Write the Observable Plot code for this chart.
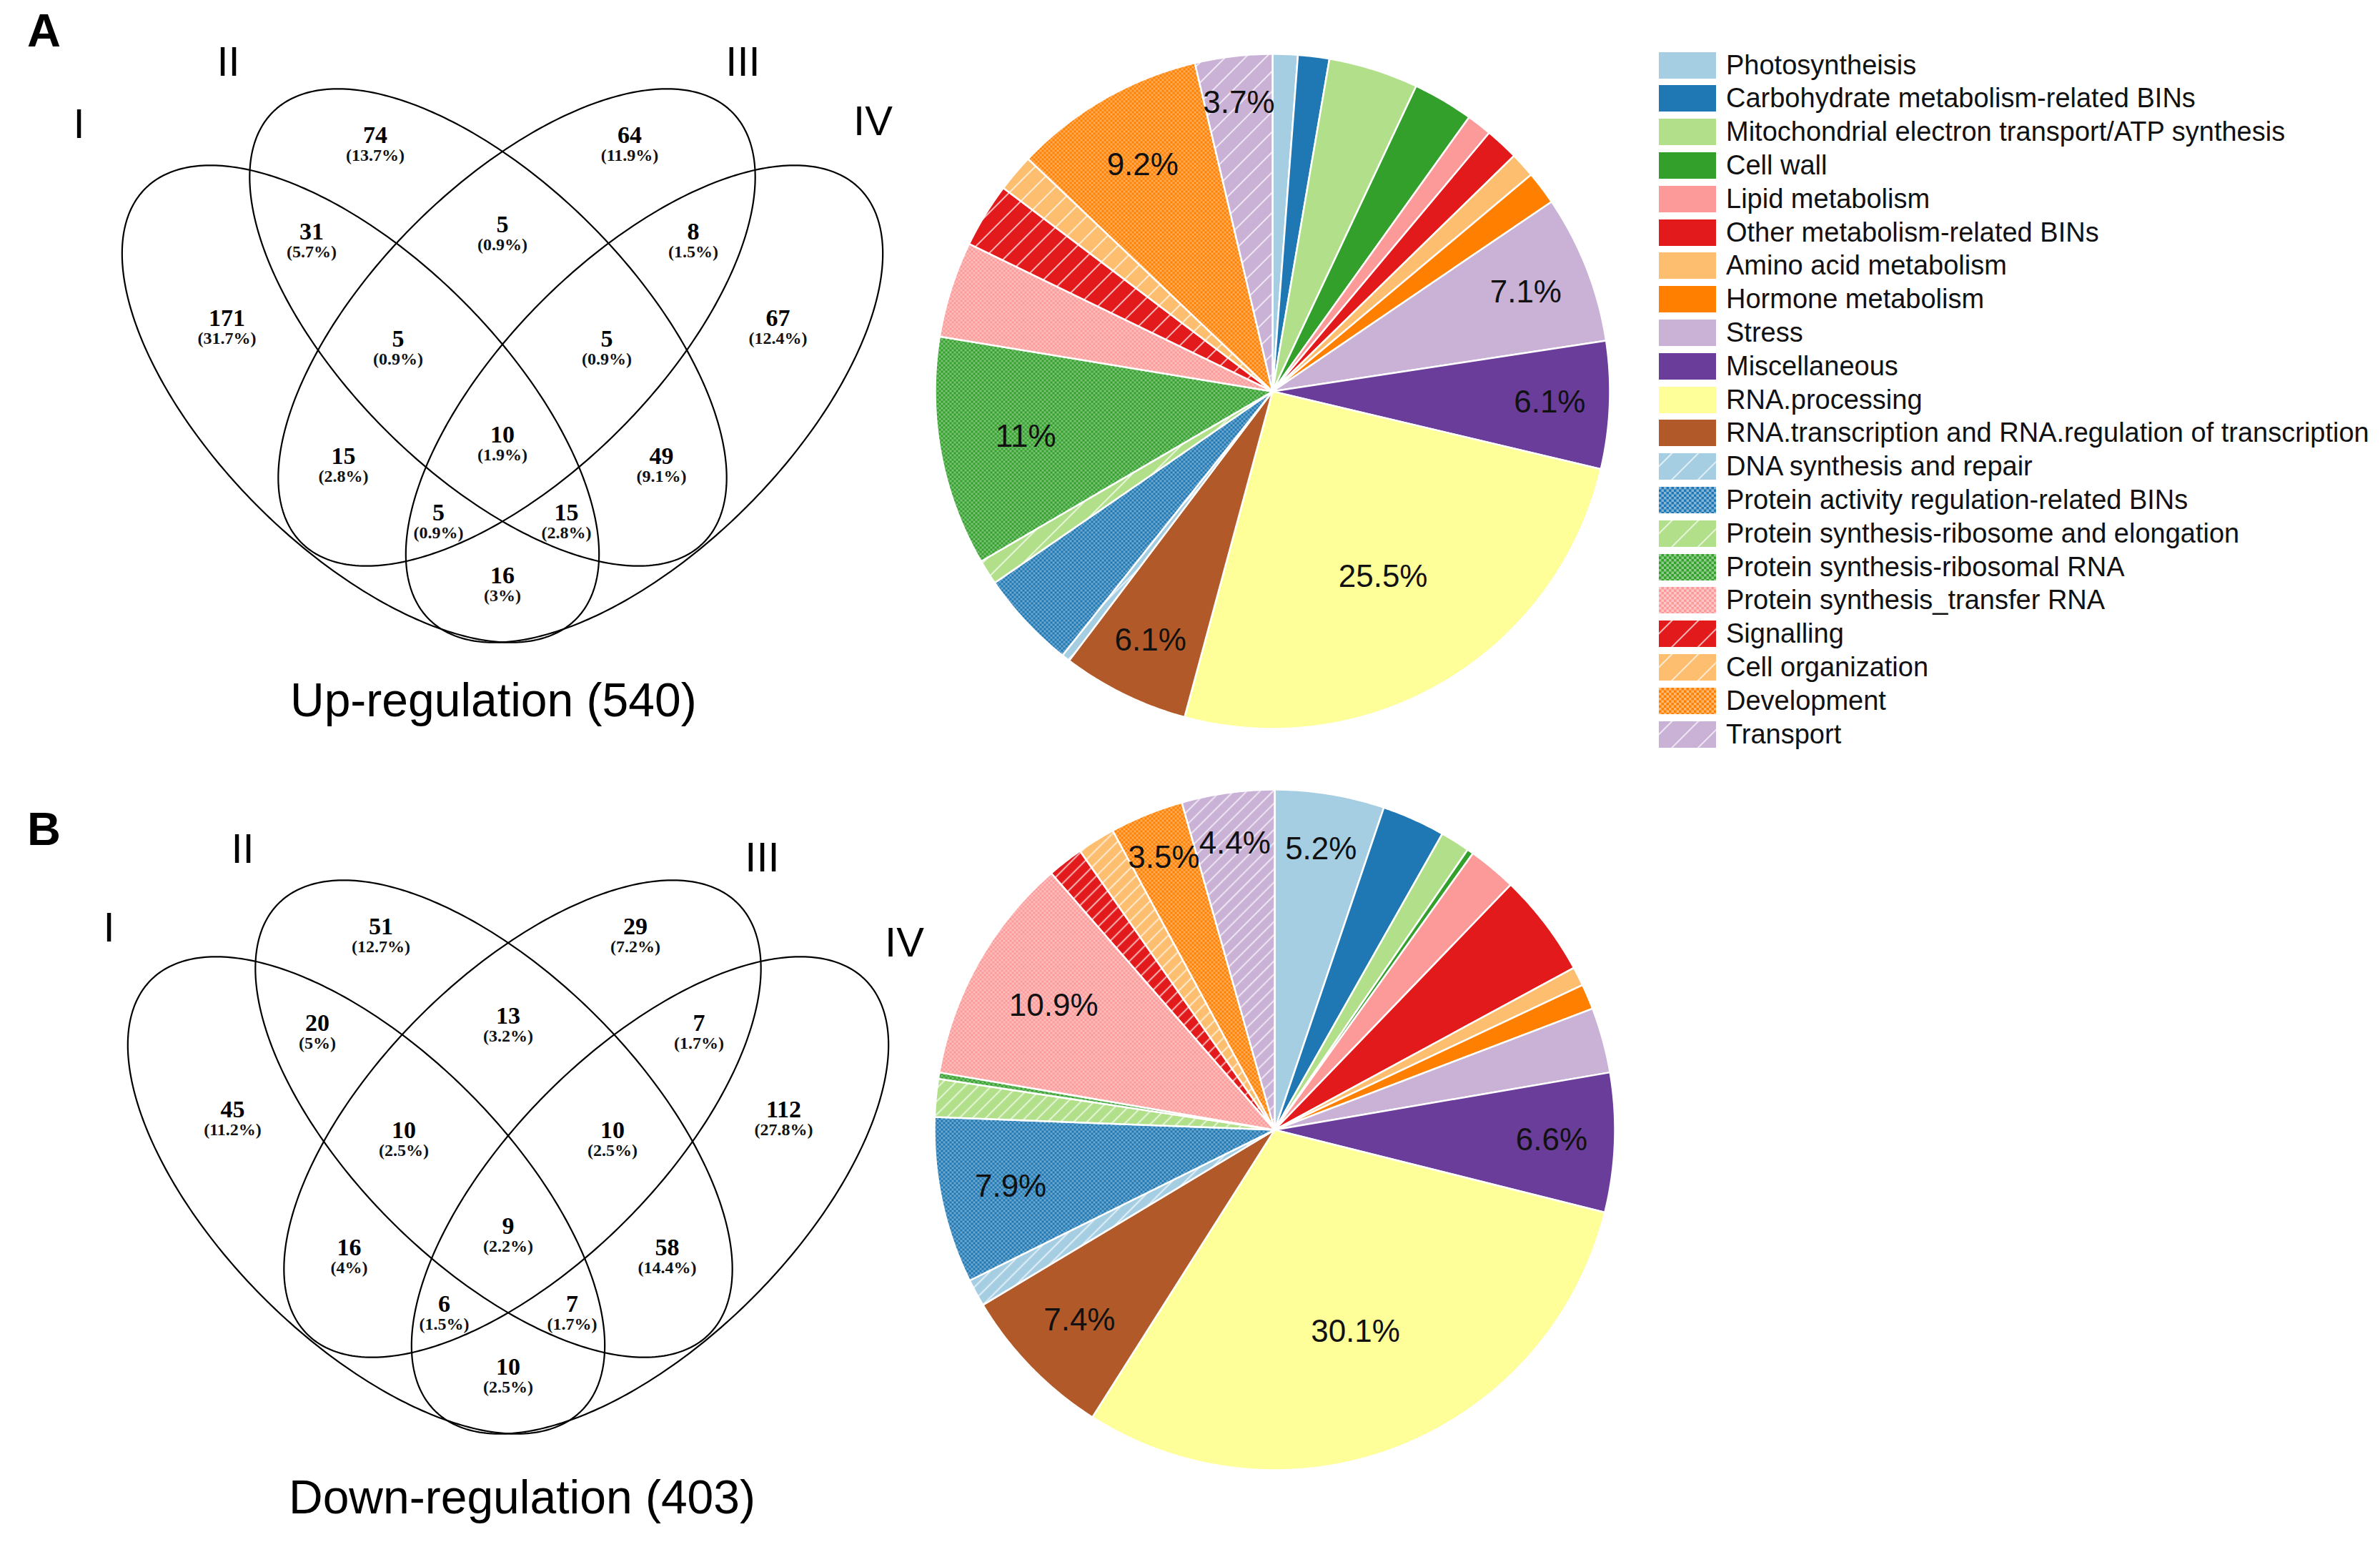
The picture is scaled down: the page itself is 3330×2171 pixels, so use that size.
<!DOCTYPE html>
<html><head><meta charset="utf-8">
<script src="https://cdn.jsdelivr.net/npm/d3@7"></script>
<script src="https://cdn.jsdelivr.net/npm/@observablehq/plot@0.6"></script>
<style>
html,body{margin:0;padding:0;background:#fff}
body{width:3330px;height:2171px;position:relative;overflow:hidden;font-family:"Liberation Sans",Arial,sans-serif;color:#000}
.abs{position:absolute}
.title{font-size:66px;line-height:1;white-space:nowrap}
.panel{font-size:65px;font-weight:bold;line-height:1}
.leg{position:absolute;display:flex;align-items:center;font-size:38px;white-space:nowrap;color:#111}
.leg svg{margin-right:14px;flex:none}
</style></head><body>
<svg width="0" height="0" style="position:absolute" id="defs"><defs id="defsInner"></defs></svg>
<div id="vennA" class="abs" style="left:0;top:0;width:1290px;height:1040px"></div>
<div id="vennB" class="abs" style="left:8px;top:1107px;width:1290px;height:1040px"></div>
<div id="pieA" class="abs" style="left:1280px;top:47px;width:1000px;height:1000px"></div>
<div id="pieB" class="abs" style="left:1283px;top:1080px;width:1000px;height:1000px"></div>
<div class="abs panel" style="left:38px;top:10px">A</div>
<div class="abs panel" style="left:38px;top:1127px">B</div>
<div class="abs title" style="left:406px;top:946px">Up-regulation (540)</div>
<div class="abs title" style="left:404px;top:2061px">Down-regulation (403)</div>
<div id="legend"></div>
<script>
// ---------------- DATA ----------------
const categories = [
  "Photosyntheisis",
  "Carbohydrate metabolism-related BINs",
  "Mitochondrial electron transport/ATP synthesis",
  "Cell wall",
  "Lipid metabolism",
  "Other metabolism-related BINs",
  "Amino acid metabolism",
  "Hormone metabolism",
  "Stress",
  "Miscellaneous",
  "RNA.processing",
  "RNA.transcription and RNA.regulation of transcription",
  "DNA synthesis and repair",
  "Protein activity regulation-related BINs",
  "Protein synthesis-ribosome and elongation",
  "Protein synthesis-ribosomal RNA",
  "Protein synthesis_transfer RNA",
  "Signalling",
  "Cell organization",
  "Development",
  "Transport"
];
// share of genes (%) per category
const upShare   = [1.2, 1.5, 4.3, 2.9, 1.2, 1.6, 1.2, 1.6, 7.1, 6.1, 25.5, 6.1, 0.4, 4.7, 1.2, 11.0, 4.6, 3.1, 1.8, 9.2, 3.7];
const downShare = [5.2, 3.0, 1.4, 0.3, 2.3, 4.9, 0.9, 1.2, 3.1, 6.6, 30.1, 7.4, 1.3, 7.9, 1.8, 0.3, 10.9, 1.7, 1.8, 3.5, 4.4];
const upLabels   = ["","","","","","","","","7.1%","6.1%","25.5%","6.1%","","","","11%","","","","9.2%","3.7%"];
const downLabels = ["5.2%","","","","","","","","","6.6%","30.1%","7.4%","","7.9%","","","10.9%","","","3.5%","4.4%"];

// Venn regions
const vennRegions = ["II","III","I∩II","II∩III","III∩IV","I","IV","I∩II∩III","II∩III∩IV","I∩II∩III∩IV","I∩III","II∩IV","I∩III∩IV","I∩II∩IV","I∩IV"];
const upCounts   = [74, 64, 31, 5, 8, 171, 67, 5, 5, 10, 15, 49, 5, 15, 16];
const upPercents = ["13.7%","11.9%","5.7%","0.9%","1.5%","31.7%","12.4%","0.9%","0.9%","1.9%","2.8%","9.1%","0.9%","2.8%","3%"];
const downCounts   = [51, 29, 20, 13, 7, 45, 112, 10, 10, 9, 16, 58, 6, 7, 10];
const downPercents = ["12.7%","7.2%","5%","3.2%","1.7%","11.2%","27.8%","2.5%","2.5%","2.2%","4%","14.4%","1.5%","1.7%","2.5%"];
const setNames = ["I","II","III","IV"];

// ---------------- STYLE / LAYOUT ----------------
const palette = ["#a6cee3","#1f78b4","#b2df8a","#33a02c","#fb9a99","#e31a1c","#fdbf6f","#ff7f00","#cab2d6","#6a3d9a","#ffff99","#b15928"];
const catColor = categories.map((c,i) => palette[i < 12 ? i : i - 12]);
const dotted = new Set([13, 15, 16, 19]);
const catPattern = categories.map((c,i) => i < 12 ? null : (dotted.has(i) ? "dots" : "stripe"));

function patternDefs(prefix, gap, cell, op){
  return categories.map((c,i) => {
    const col = catColor[i], kind = catPattern[i];
    if (!kind) return "";
    if (kind === "stripe") {
      return `<pattern id="${prefix}${i}" patternUnits="userSpaceOnUse" width="${gap}" height="${gap}" patternTransform="rotate(45)">
        <rect width="${gap}" height="${gap}" fill="${col}"/>
        <line x1="${gap/2}" y1="0" x2="${gap/2}" y2="${gap}" stroke="#fff" stroke-width="1.7" stroke-opacity="0.8"/></pattern>`;
    }
    const h = cell/2;
    return `<pattern id="${prefix}${i}" patternUnits="userSpaceOnUse" width="${cell}" height="${cell}">
      <rect width="${cell}" height="${cell}" fill="${col}"/>
      <rect x="0" y="0" width="${h}" height="${h}" fill="#fff" fill-opacity="${op}"/>
      <rect x="${h}" y="${h}" width="${h}" height="${h}" fill="#fff" fill-opacity="${op}"/></pattern>`;
  }).join("");
}
document.getElementById("defsInner").innerHTML =
  patternDefs("pa", 20, 6, 0.35) + patternDefs("pb", 13, 6, 0.35) + patternDefs("pl", 26, 7, 0.45);
const fillFor = (i, prefix) => catPattern[i] ? `url(#${prefix}${i})` : catColor[i];

// ---------------- PIES ----------------
function pieChart(shares, labels, R, prefix){
  const total = d3.sum(shares);
  let acc = 0;
  const pts = [], lab = [];
  shares.forEach((v,i) => {
    const a0 = acc/total*2*Math.PI, a1 = (acc+v)/total*2*Math.PI; acc += v;
    const fill = fillFor(i, prefix);
    const n = Math.max(2, Math.ceil((a1-a0)/(Math.PI/360)));
    pts.push({k:i, x:0, y:0, fill});
    for (let j=0;j<=n;j++){ const t = a0+(a1-a0)*j/n; pts.push({k:i, x:Math.sin(t), y:Math.cos(t), fill}); }
    pts.push({k:i, x:0, y:0, fill});
    if (labels[i]) {
      const m = (a0+a1)/2, rr = Math.max(0.64, 0.92 - 0.016*v);
      lab.push({x: rr*Math.sin(m), y: rr*Math.cos(m), text: labels[i]});
    }
  });
  return Plot.plot({
    width:1000, height:1000, margin:0,
    style:{background:"transparent", overflow:"visible"},
    x:{domain:[-R,R], axis:null}, y:{domain:[-R,R], axis:null},
    color:{type:"identity"},
    marks:[
      Plot.line(pts, {x:"x", y:"y", z:"k", fill:"fill", stroke:"#fff", strokeWidth:2.5, strokeLinejoin:"round", curve:"linear"}),
      Plot.text(lab, {x:"x", y:"y", text:"text", fontSize:44, fill:"#111", fontFamily:"Liberation Sans, Arial, sans-serif"})
    ]
  });
}
document.getElementById("pieA").append(pieChart(upShare, upLabels, 500/472, "pa"));
document.getElementById("pieB").append(pieChart(downShare, downLabels, 500/476, "pb"));

// ---------------- VENNS ----------------
// geometry of the four ellipses in the Venn frame (pixel units, y downward)
const ellipseGeom = [
  {set:"I",  cx:504.0, cy:564.5, rot:45},
  {set:"II", cx:682.5, cy:457.5, rot:45},
  {set:"III",cx:722.5, cy:457.5, rot:-45},
  {set:"IV", cx:901.0, cy:564.5, rot:-45}
];
const semiA = 426, semiB = 203;
const regionPos = [
  [524.5,203],[880.5,203],[435.5,338],[702.5,328],[969.5,338],
  [317,459],[1088,459],[556.5,488],[848.5,488],[702.5,622],
  [480,652],[925,652],[613,731],[792,731],[702.5,819]
];
function venn(counts, pcts, numeralPos){
  const ell = ellipseGeom.flatMap(e => d3.range(0, 361).map(d => {
    const t = d*Math.PI/180, p = e.rot*Math.PI/180;
    return {set:e.set,
      x: e.cx + semiA*Math.cos(t)*Math.cos(p) - semiB*Math.sin(t)*Math.sin(p),
      y: e.cy + semiA*Math.cos(t)*Math.sin(p) + semiB*Math.sin(t)*Math.cos(p)};
  }));
  const lab = vennRegions.map((r,i) => ({x:regionPos[i][0], y:regionPos[i][1], n:String(counts[i]), p:`(${pcts[i]})`}));
  const nums = setNames.map((s,i) => ({x:numeralPos[i][0], y:numeralPos[i][1], t:s}));
  return Plot.plot({
    width:1290, height:1040, margin:0,
    style:{background:"transparent", overflow:"visible"},
    x:{domain:[0,1290], range:[0,1290], axis:null},
    y:{domain:[0,1040], range:[0,1040], axis:null},
    marks:[
      Plot.line(ell, {x:"x", y:"y", z:"set", stroke:"#000", strokeWidth:2.2, curve:"linear"}),
      Plot.text(lab, {x:"x", y:"y", text:"n", dy:-14, fontSize:34, fontWeight:"bold", fill:"#000", fontFamily:"Liberation Serif, Times New Roman, serif"}),
      Plot.text(lab, {x:"x", y:"y", text:"p", dy:14, fontSize:24, fontWeight:"bold", fill:"#111", fontFamily:"Liberation Serif, Times New Roman, serif"}),
      Plot.text(nums, {x:"x", y:"y", text:"t", fontSize:58, fill:"#000", fontFamily:"Liberation Sans, Arial, sans-serif"})
    ]
  });
}
document.getElementById("vennA").append(venn(upCounts, upPercents, [[110,174],[319,87],[1039,87],[1221,170]]));
document.getElementById("vennB").append(venn(downCounts, downPercents, [[144,191],[331,81],[1058,93],[1257,212]]));

// ---------------- LEGEND ----------------
const legend = document.getElementById("legend");
categories.forEach((c,i) => {
  const row = document.createElement("div");
  row.className = "leg";
  row.style.left = "2321px";
  row.style.top = (91 - 23 + i*46.8) + "px";
  row.style.height = "46px";
  row.innerHTML = `<svg width="80" height="37"><rect width="80" height="37" fill="${fillFor(i,'pl')}"/></svg><span>${c}</span>`;
  legend.append(row);
});
</script>
</body></html>
